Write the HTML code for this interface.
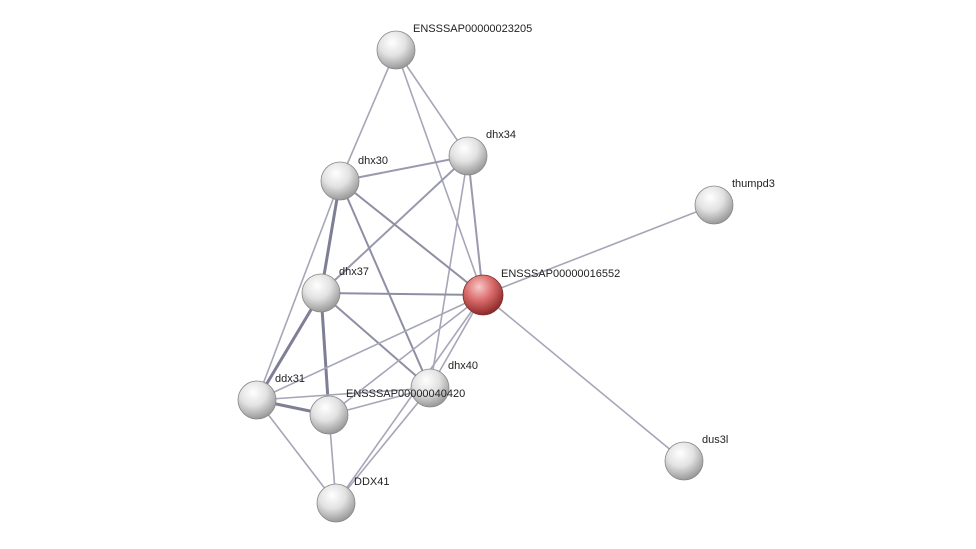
<!DOCTYPE html>
<html><head><meta charset="utf-8"><style>
html,body{margin:0;padding:0;background:#fff;}
svg{display:block;}
text{font-family:"Liberation Sans",sans-serif;font-size:11px;fill:#222;}
</style></head><body>
<svg width="976" height="549" viewBox="0 0 976 549">
<defs>
<radialGradient id="g" cx="40%" cy="30%" r="70%">
<stop offset="0" stop-color="#ffffff"/><stop offset="0.5" stop-color="#e2e2e2"/><stop offset="1" stop-color="#9a9a9a"/>
</radialGradient>
<radialGradient id="r" cx="40%" cy="30%" r="70%">
<stop offset="0" stop-color="#f8c8c8"/><stop offset="0.5" stop-color="#d96a6a"/><stop offset="1" stop-color="#8e2a2a"/>
</radialGradient>
</defs>
<g stroke="#a6a6b8" stroke-width="1.6" fill="none">
<line x1="396" y1="50" x2="340" y2="181"/>
<line x1="396" y1="50" x2="468" y2="156"/>
<line x1="396" y1="50" x2="483" y2="295"/>
<line x1="468" y1="156" x2="340" y2="181" stroke="#9a9aae" stroke-width="2"/>
<line x1="468" y1="156" x2="321" y2="293" stroke="#9a9aae" stroke-width="2"/>
<line x1="468" y1="156" x2="483" y2="295" stroke="#9a9aae" stroke-width="2"/>
<line x1="468" y1="156" x2="430" y2="388"/>
<line x1="340" y1="181" x2="321" y2="293" stroke="#7e7e96" stroke-width="3"/>
<line x1="340" y1="181" x2="430" y2="388" stroke="#8e8ea4" stroke-width="2"/>
<line x1="340" y1="181" x2="483" y2="295" stroke="#8e8ea4" stroke-width="2"/>
<line x1="340" y1="181" x2="257" y2="400"/>
<line x1="714" y1="205" x2="483" y2="295"/>
<line x1="321" y1="293" x2="483" y2="295" stroke="#8e8ea4" stroke-width="2"/>
<line x1="321" y1="293" x2="257" y2="400" stroke="#7e7e96" stroke-width="3"/>
<line x1="321" y1="293" x2="329" y2="415" stroke="#7e7e96" stroke-width="3"/>
<line x1="321" y1="293" x2="430" y2="388" stroke="#8e8ea4" stroke-width="2"/>
<line x1="483" y1="295" x2="257" y2="400"/>
<line x1="483" y1="295" x2="329" y2="415"/>
<line x1="483" y1="295" x2="430" y2="388"/>
<line x1="483" y1="295" x2="336" y2="503"/>
<line x1="483" y1="295" x2="684" y2="461"/>
<line x1="257" y1="400" x2="329" y2="415" stroke="#7e7e96" stroke-width="3"/>
<line x1="257" y1="400" x2="430" y2="388"/>
<line x1="257" y1="400" x2="336" y2="503"/>
<line x1="329" y1="415" x2="336" y2="503"/>
<line x1="329" y1="415" x2="430" y2="388"/>
<line x1="430" y1="388" x2="336" y2="503"/>
</g>
<g stroke="#888" stroke-width="0.8">
<circle cx="396" cy="50" r="19" fill="url(#g)"/>
<circle cx="468" cy="156" r="19" fill="url(#g)"/>
<circle cx="340" cy="181" r="19" fill="url(#g)"/>
<circle cx="714" cy="205" r="19" fill="url(#g)"/>
<circle cx="321" cy="293" r="19" fill="url(#g)"/>
<circle cx="483" cy="295" r="20" fill="url(#r)" stroke="#7a2a2a"/>
<circle cx="430" cy="388" r="19" fill="url(#g)"/>
<circle cx="257" cy="400" r="19" fill="url(#g)"/>
<circle cx="329" cy="415" r="19" fill="url(#g)"/>
<circle cx="684" cy="461" r="19" fill="url(#g)"/>
<circle cx="336" cy="503" r="19" fill="url(#g)"/>
</g>
<text x="413" y="32">ENSSSAP00000023205</text>
<text x="486" y="138">dhx34</text>
<text x="358" y="164">dhx30</text>
<text x="732" y="187">thumpd3</text>
<text x="339" y="275">dhx37</text>
<text x="501" y="277">ENSSSAP00000016552</text>
<text x="448" y="369">dhx40</text>
<text x="275" y="382">ddx31</text>
<text x="346" y="397">ENSSSAP00000040420</text>
<text x="702" y="443">dus3l</text>
<text x="354" y="485">DDX41</text>
</svg>
</body></html>
